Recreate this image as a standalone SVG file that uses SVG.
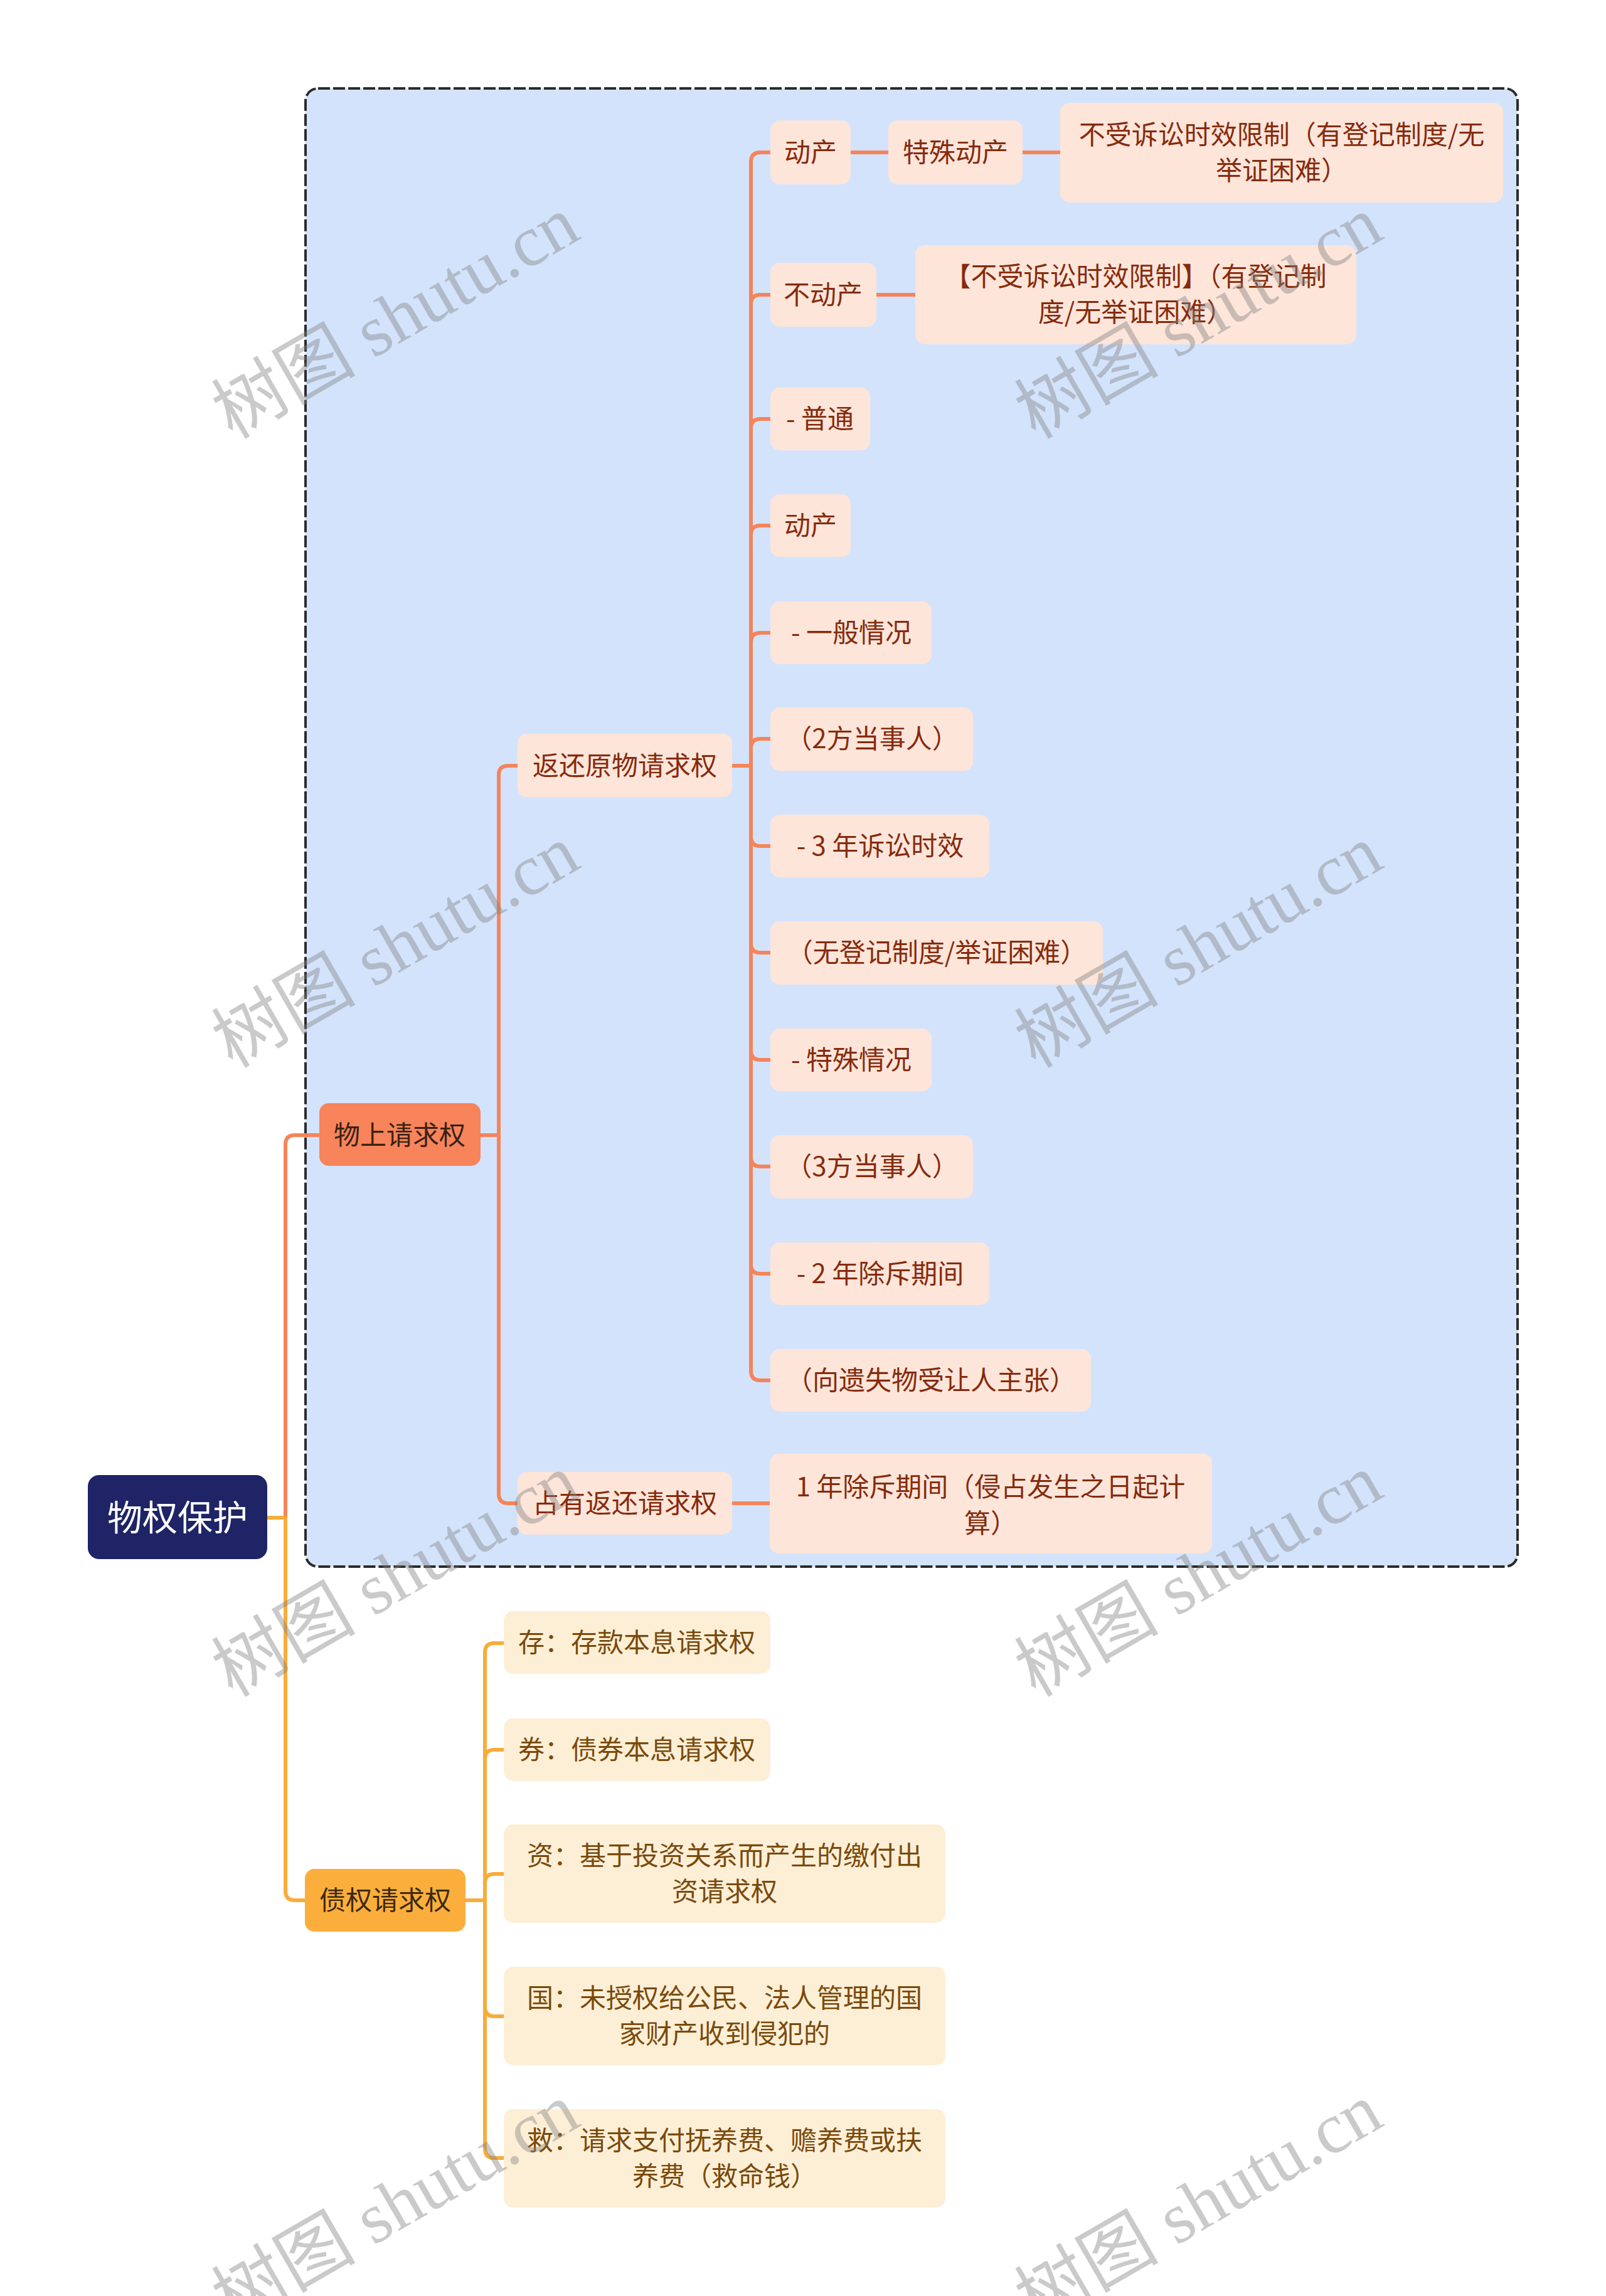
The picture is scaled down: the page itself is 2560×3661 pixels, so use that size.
<svg xmlns="http://www.w3.org/2000/svg" width="2560" height="3661" viewBox="0 0 2560 3661">
<style>
  text { font-family: "Noto Sans CJK SC", "Noto Sans", sans-serif; text-anchor: middle; }
  .root rect { fill: #1e2466; }
  .root text { fill: #ffffff; font-size: 56px; }
  .l1o rect { fill: #f7845a; }
  .l1o text { fill: #3a2216; font-size: 42px; }
  .l1y rect { fill: #fbae3c; }
  .l1y text { fill: #3d2a0e; font-size: 42px; }
  .pe rect { fill: #fde5da; }
  .pe text { fill: #862b0c; font-size: 42px; }
  .cr rect { fill: #fdefd6; }
  .cr text { fill: #7a4a0c; font-size: 42px; }
  .co { fill: none; stroke: #f5845a; stroke-width: 6; stroke-linecap: round; stroke-linejoin: round; }
  .cy { fill: none; stroke: #f9ac3a; stroke-width: 6; stroke-linecap: round; stroke-linejoin: round; }
  .wm { font-family: "Liberation Serif", "Noto Sans CJK SC", serif; font-size: 115px; fill: #808080; fill-opacity: 0.42; text-anchor: middle; }
</style>
<rect x="0" y="0" width="2560" height="3661" fill="#ffffff"/>
<rect id="frame" x="487" y="141" width="1932" height="2357" rx="20" ry="20" fill="#d4e3fc" stroke="#2b2b2b" stroke-width="4" stroke-dasharray="19 5"/>

<g id="connectors">
  <!-- root -> 物上请求权 -->
  <path class="co" d="M425 2420 H455 V1825 Q455 1810 470 1810 H509"/>
  <!-- 物上请求权 -> children -->
  <path class="co" d="M766 1810 H795 V1236 Q795 1221 810 1221 H825"/>
  <path class="co" d="M766 1810 H795 V2382 Q795 2397 810 2397 H825"/>
  <!-- 返还原物请求权 -> leaves -->
  <path class="co" d="M1167 1221 H1197 V258 Q1197 243 1212 243 H1228"/>
  <path class="co" d="M1167 1221 H1197 V485 Q1197 470 1212 470 H1228"/>
  <path class="co" d="M1167 1221 H1197 V683 Q1197 668 1212 668 H1228"/>
  <path class="co" d="M1167 1221 H1197 V853 Q1197 838 1212 838 H1228"/>
  <path class="co" d="M1167 1221 H1197 V1024 Q1197 1009 1212 1009 H1228"/>
  <path class="co" d="M1167 1221 H1197 V1193 Q1197 1178 1212 1178 H1228"/>
  <path class="co" d="M1167 1221 H1197 V1334 Q1197 1349 1212 1349 H1228"/>
  <path class="co" d="M1167 1221 H1197 V1504 Q1197 1519 1212 1519 H1228"/>
  <path class="co" d="M1167 1221 H1197 V1675 Q1197 1690 1212 1690 H1228"/>
  <path class="co" d="M1167 1221 H1197 V1845 Q1197 1860 1212 1860 H1228"/>
  <path class="co" d="M1167 1221 H1197 V2016 Q1197 2031 1212 2031 H1228"/>
  <path class="co" d="M1167 1221 H1197 V2186 Q1197 2201 1212 2201 H1228"/>
  <!-- 动产 -> 特殊动产 -> text -->
  <path class="co" d="M1356 243 H1416"/>
  <path class="co" d="M1630 243 H1690"/>
  <!-- 不动产 -> text -->
  <path class="co" d="M1397 470 H1459"/>
  <!-- 占有返还请求权 -> text -->
  <path class="co" d="M1167 2397 H1227"/>
  <!-- root -> 债权请求权 -->
  <path class="cy" d="M425 2420 H455 V3015 Q455 3030 470 3030 H486"/>
  <!-- 债权请求权 -> leaves -->
  <path class="cy" d="M742 3030 H773 V2635 Q773 2620 788 2620 H803"/>
  <path class="cy" d="M742 3030 H773 V2805 Q773 2790 788 2790 H803"/>
  <path class="cy" d="M742 3030 H773 V3003 Q773 2988 788 2988 H803"/>
  <path class="cy" d="M742 3030 H773 V3200 Q773 3215 788 3215 H803"/>
  <path class="cy" d="M742 3030 H773 V3426 Q773 3441 788 3441 H803"/>
</g>

<g id="n-root" class="root"><rect x="140" y="2352" width="286" height="134" rx="18"/><text x="283" y="2440">物权保护</text></g>

<g id="n-wushang" class="l1o"><rect x="509" y="1759" width="257" height="100" rx="15"/><text x="637" y="1825">物上请求权</text></g>
<g id="n-fanhuan" class="pe"><rect x="825" y="1170" width="342" height="101" rx="15"/><text x="996" y="1236">返还原物请求权</text></g>
<g id="n-zhanyou" class="pe"><rect x="825" y="2347" width="342" height="100" rx="15"/><text x="996" y="2412">占有返还请求权</text></g>
<g id="n-1nian" class="pe"><rect x="1227" y="2318" width="705" height="159" rx="15"/><text x="1579" y="2386">1 年除斥期间（侵占发生之日起计</text><text x="1579" y="2444">算）</text></g>

<g id="n-dongchan1" class="pe"><rect x="1228" y="192" width="128" height="102" rx="15"/><text x="1292" y="258">动产</text></g>
<g id="n-teshu" class="pe"><rect x="1416" y="192" width="214" height="102" rx="15"/><text x="1523" y="258">特殊动产</text></g>
<g id="n-bushou1" class="pe"><rect x="1690" y="164" width="706" height="159" rx="15"/><text x="2043" y="230">不受诉讼时效限制（有登记制度/无</text><text x="2043" y="287">举证困难）</text></g>
<g id="n-budongchan" class="pe"><rect x="1228" y="419" width="169" height="102" rx="15"/><text x="1312" y="485">不动产</text></g>
<g id="n-bushou2" class="pe"><rect x="1459" y="391" width="703" height="158" rx="15"/><text x="1810" y="456">【不受诉讼时效限制】（有登记制</text><text x="1810" y="513">度/无举证困难）</text></g>
<g id="n-putong" class="pe"><rect x="1228" y="618" width="159" height="100" rx="15"/><text x="1307" y="683">- 普通</text></g>
<g id="n-dongchan2" class="pe"><rect x="1228" y="788" width="128" height="100" rx="15"/><text x="1292" y="853">动产</text></g>
<g id="n-yiban" class="pe"><rect x="1228" y="959" width="257" height="100" rx="15"/><text x="1357" y="1024">- 一般情况</text></g>
<g id="n-2fang" class="pe"><rect x="1228" y="1128" width="323" height="101" rx="15"/><text x="1390" y="1193">（2方当事人）</text></g>
<g id="n-3nian" class="pe"><rect x="1228" y="1299" width="349" height="100" rx="15"/><text x="1403" y="1364">- 3 年诉讼时效</text></g>
<g id="n-wudengji" class="pe"><rect x="1228" y="1469" width="530" height="101" rx="15"/><text x="1493" y="1534">（无登记制度/举证困难）</text></g>
<g id="n-teshuqk" class="pe"><rect x="1228" y="1640" width="257" height="100" rx="15"/><text x="1357" y="1705">- 特殊情况</text></g>
<g id="n-3fang" class="pe"><rect x="1228" y="1810" width="323" height="101" rx="15"/><text x="1390" y="1875">（3方当事人）</text></g>
<g id="n-2nian" class="pe"><rect x="1228" y="1981" width="349" height="100" rx="15"/><text x="1403" y="2046">- 2 年除斥期间</text></g>
<g id="n-yishi" class="pe"><rect x="1228" y="2151" width="511" height="100" rx="15"/><text x="1484" y="2216">（向遗失物受让人主张）</text></g>

<g id="n-zhaiquan" class="l1y"><rect x="486" y="2980" width="256" height="100" rx="15"/><text x="614" y="3045">债权请求权</text></g>
<g id="n-cun" class="cr"><rect x="803" y="2569" width="425" height="100" rx="15"/><text x="1015" y="2634">存：存款本息请求权</text></g>
<g id="n-quan" class="cr"><rect x="803" y="2740" width="425" height="100" rx="15"/><text x="1015" y="2805">券：债券本息请求权</text></g>
<g id="n-zi" class="cr"><rect x="803" y="2909" width="704" height="157" rx="15"/><text x="1155" y="2974">资：基于投资关系而产生的缴付出</text><text x="1155" y="3031">资请求权</text></g>
<g id="n-guo" class="cr"><rect x="803" y="3136" width="704" height="157" rx="15"/><text x="1155" y="3201">国：未授权给公民、法人管理的国</text><text x="1155" y="3258">家财产收到侵犯的</text></g>
<g id="n-jiu" class="cr"><rect x="803" y="3363" width="704" height="157" rx="15"/><text x="1155" y="3428">救：请求支付抚养费、赡养费或扶</text><text x="1155" y="3485">养费（救命钱）</text></g>

<g id="watermarks">
  <text class="wm" transform="translate(650 540) rotate(-30)">树图 shutu.cn</text>
  <text class="wm" transform="translate(1930 540) rotate(-30)">树图 shutu.cn</text>
  <text class="wm" transform="translate(650 1543) rotate(-30)">树图 shutu.cn</text>
  <text class="wm" transform="translate(1930 1543) rotate(-30)">树图 shutu.cn</text>
  <text class="wm" transform="translate(650 2546) rotate(-30)">树图 shutu.cn</text>
  <text class="wm" transform="translate(1930 2546) rotate(-30)">树图 shutu.cn</text>
  <text class="wm" transform="translate(650 3549) rotate(-30)">树图 shutu.cn</text>
  <text class="wm" transform="translate(1930 3549) rotate(-30)">树图 shutu.cn</text>
</g>
</svg>
